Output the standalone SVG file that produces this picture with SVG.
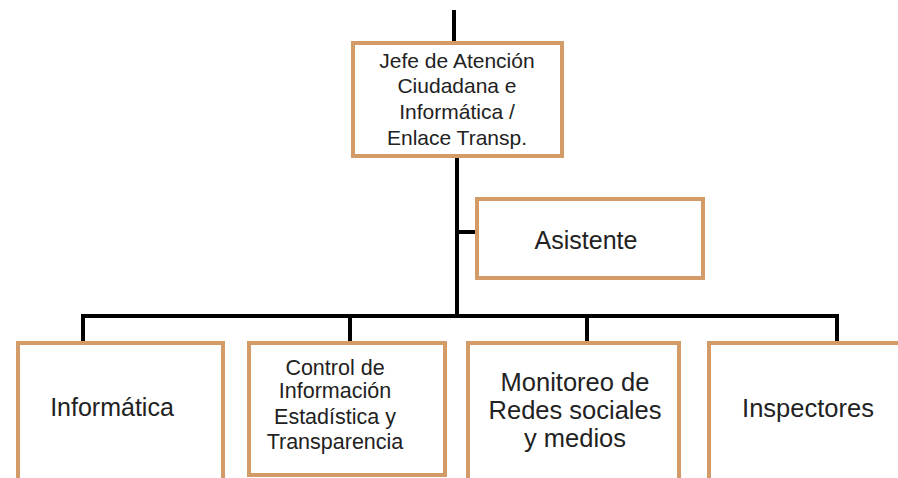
<svg xmlns="http://www.w3.org/2000/svg" width="898" height="478" viewBox="0 0 898 478">
<style>
.box{fill:#fff;stroke:#D29B68;stroke-width:4}
.ln{stroke:#000;stroke-width:4;fill:none}
text{font-family:"Liberation Sans",Arial,sans-serif;fill:#222;text-anchor:middle}
</style>
<rect width="898" height="478" fill="#fff"/>
<g id="connectors">
<line class="ln" x1="454" y1="10" x2="454" y2="43"/>
<line class="ln" x1="457" y1="156" x2="457" y2="318"/>
<line class="ln" x1="457" y1="232" x2="477" y2="232"/>
<polyline class="ln" points="83,343 83,316 837,316 837,343"/>
<line class="ln" x1="350" y1="316" x2="350" y2="343"/>
<line class="ln" x1="587" y1="316" x2="587" y2="343"/>
</g>
<g id="jefe">
<rect class="box" x="353" y="43" width="209" height="113"/>
<text x="457" y="68" font-size="21">Jefe de Atención</text>
<text x="457" y="93" font-size="21">Ciudadana e</text>
<text x="457" y="119" font-size="21">Informática  /</text>
<text x="457" y="145" font-size="21">Enlace Transp.</text>
</g>
<g id="asistente">
<rect class="box" x="477" y="199" width="226" height="79"/>
<text x="586" y="249" font-size="25">Asistente</text>
</g>
<g id="informatica">
<rect class="box" x="18" y="343" width="205" height="140"/>
<text x="112" y="416" font-size="25">Informática</text>
</g>
<g id="control">
<rect class="box" x="249" y="343" width="196" height="132"/>
<text x="335" y="375" font-size="21.5">Control de</text>
<text x="335" y="398" font-size="21.5">Información</text>
<text x="335" y="424" font-size="21.5">Estadística y</text>
<text x="335" y="449" font-size="21.5">Transparencia</text>
</g>
<g id="monitoreo">
<rect class="box" x="468" y="343" width="211" height="140"/>
<text x="575" y="391" font-size="25.5">Monitoreo de</text>
<text x="575" y="419" font-size="25.5">Redes sociales</text>
<text x="575" y="447" font-size="25.5">y medios</text>
</g>
<g id="inspectores">
<rect class="box" x="709" y="343" width="195" height="140"/>
<text x="808" y="417" font-size="25.5">Inspectores</text>
</g>
</svg>
